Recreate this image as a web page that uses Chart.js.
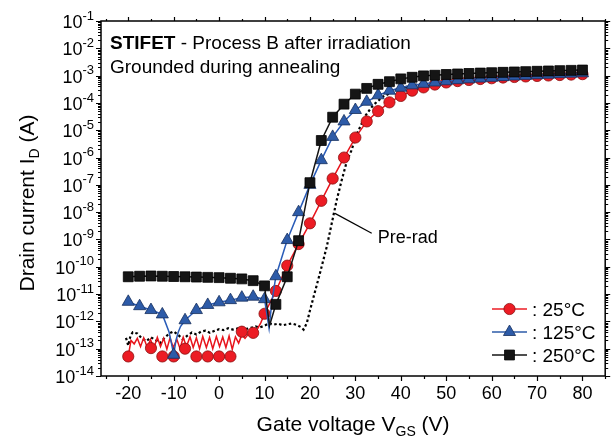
<!DOCTYPE html>
<html>
<head>
<meta charset="utf-8">
<script src="https://cdn.jsdelivr.net/npm/chart.js@4.4.1/dist/chart.umd.min.js"></script>
<style>
  html, body { margin: 0; padding: 0; background: #fff; }
  #wrap { width: 613px; height: 438px; }
</style>
</head>
<body>
<div id="wrap"><canvas id="ivChart" width="613" height="438"></canvas></div>
<script>
// axis ticks
const xTicks = [-20, -10, 0, 10, 20, 30, 40, 50, 60, 70, 80];
const yDecades = [-14, -13, -12, -11, -10, -9, -8, -7, -6, -5, -4, -3, -2, -1];

// 25°C markers (no point at -17.5 V)
const vg25 = [-20, -15, -12.5, -10, -7.5, -5, -2.5, 0, 2.5, 5, 7.5, 10, 12.5, 15, 17.5, 20, 22.5, 25, 27.5, 30,
  32.5, 35, 37.5, 40, 42.5, 45, 47.5, 50, 52.5, 55, 57.5, 60, 62.5, 65, 67.5, 70, 72.5, 75, 77.5, 80];
const id25 = [5.2e-14, 1.05e-13, 5.2e-14, 5.2e-14, 1.0e-13, 5.2e-14, 5.2e-14, 5.2e-14, 5.2e-14,
  4.2e-13, 3.8e-13, 1.9e-12, 1.3e-11, 1.1e-10, 6.8e-10, 3.9e-9, 2.6e-8, 1.7e-7, 1.0e-6, 5.4e-6,
  2.1e-5, 5.0e-5, 1.05e-4, 1.8e-4, 2.8e-4, 3.7e-4, 4.7e-4, 5.6e-4, 6.3e-4, 6.9e-4, 7.5e-4, 8.0e-4,
  8.5e-4, 8.9e-4, 9.3e-4, 9.7e-4, 1.01e-3, 1.05e-3, 1.09e-3, 1.13e-3];
// 25°C noisy trace in the off region
const vg25Line = [-20, -19.4, -18.7, -18, -17.3, -16.6, -15.8, -15.1, -14.4, -13.6, -12.9, -12.2, -11.5, -10.8,
  -10.1, -9.3, -8.6, -7.9, -7.2, -6.4, -5.7, -5, -4.3, -3.6, -2.8, -2.1, -1.4, -0.6, 0.1, 0.8, 1.5, 2.2,
  2.9, 3.6, 4.3, 5, 5.7, 6.4, 7.1, 7.8, 8.5, 9.2, 10];
const id25Line = [5.2e-14, 2.0e-13, 1.5e-13, 2.4e-13, 1.2e-13, 2.5e-13, 1.1e-13, 2.2e-13, 1.0e-13, 2.6e-13,
  1.2e-13, 2.4e-13, 9.5e-14, 2.5e-13, 1.1e-13, 2.2e-13, 1.0e-13, 2.6e-13, 1.2e-13, 2.7e-13, 1.1e-13,
  2.5e-13, 1.0e-13, 2.8e-13, 1.1e-13, 2.6e-13, 1.0e-13, 2.8e-13, 1.2e-13, 2.7e-13, 1.1e-13, 2.9e-13,
  9.5e-14, 2.7e-13, 1.6e-13, 3.2e-13, 2.4e-13, 3.4e-13, 2.8e-13, 4.0e-13, 5.5e-13, 9.0e-13, 1.9e-12];

// 125°C
const vg125 = [-20, -17.5, -15, -12.5, -10, -7.5, -5, -2.5, 0, 2.5, 5, 7.5, 10, 12.5, 15, 17.5, 20, 22.5, 25,
  27.5, 30, 32.5, 35, 37.5, 40, 42.5, 45, 47.5, 50, 52.5, 55, 57.5, 60, 62.5, 65, 67.5, 70, 72.5, 75, 77.5, 80];
const id125 = [5.2e-12, 3.6e-12, 2.6e-12, 1.8e-12, 6.0e-14, 1.1e-12, 2.6e-12, 4.0e-12, 5.0e-12, 6.0e-12,
  7.4e-12, 8.0e-12, 6.5e-12, 4.5e-11, 9.5e-10, 1.0e-8, 1.0e-7, 8.0e-7, 5.7e-6, 2.1e-5, 5.5e-5, 1.1e-4,
  1.9e-4, 2.8e-4, 3.6e-4, 4.4e-4, 5.0e-4, 5.6e-4, 6.2e-4, 6.8e-4, 7.3e-4, 7.8e-4, 8.3e-4, 8.8e-4, 9.3e-4,
  9.8e-4, 1.03e-3, 1.08e-3, 1.13e-3, 1.18e-3, 1.22e-3];
const vg125Extra = [-11.8, -11, -10.5, -9.5, -9, -8.5, 10.6, 11, 11.6];
const id125Extra = [9e-13, 4e-13, 1.6e-13, 2e-13, 4e-13, 6.5e-13, 1.5e-12, 5.5e-13, 5e-12];

// 250°C
const vg250 = vg125;
const id250 = [4.3e-11, 4.5e-11, 4.6e-11, 4.5e-11, 4.4e-11, 4.3e-11, 4.2e-11, 4.1e-11, 4.0e-11, 3.8e-11,
  3.6e-11, 3.1e-11, 2.0e-11, 4.2e-12, 4.3e-11, 9.0e-10, 1.2e-7, 4.2e-6, 3.0e-5, 9.0e-5, 2.1e-4, 3.4e-4,
  4.8e-4, 6.0e-4, 7.6e-4, 8.7e-4, 9.8e-4, 1.03e-3, 1.1e-3, 1.15e-3, 1.2e-3, 1.24e-3, 1.28e-3, 1.32e-3,
  1.36e-3, 1.4e-3, 1.44e-3, 1.48e-3, 1.52e-3, 1.56e-3, 1.6e-3];
const vg250Extra = [10.6, 11.1, 11.7];
const id250Extra = [3e-12, 7e-13, 1.5e-12];

// pre-rad (dotted)
const vgPre = [-20.5, -20, -19.5, -19, -18, -17, -16, -15, -14, -13, -12, -11, -10, -9, -8, -7, -6, -5, -4, -3,
  -2, -1, 0, 1, 2, 3, 4, 5, 6, 7, 8, 9, 10, 11, 12, 13, 14, 15, 16, 17, 18, 18.6, 19.3, 20, 20.7, 22.2,
  23.7, 24.8, 25.9, 27, 28.2, 29.2, 29.9, 32.1, 33.9, 36.1, 38.5, 41, 45, 50, 55, 60, 65, 70, 75, 80];
const idPre = [2.5e-13, 1.3e-13, 3e-13, 4e-13, 3.6e-13, 2.4e-13, 1.9e-13, 2.6e-13, 2.1e-13, 1.6e-13, 2.5e-13,
  3.6e-13, 4.3e-13, 3.2e-13, 2.2e-13, 3e-13, 3.9e-13, 3.3e-13, 4.2e-13, 4.6e-13, 3.8e-13, 4.5e-13, 5.2e-13,
  4.8e-13, 5.6e-13, 5e-13, 5.5e-13, 6e-13, 5.3e-13, 5.8e-13, 6.5e-13, 6e-13, 7e-13, 8.5e-13, 7.6e-13,
  8.2e-13, 7.2e-13, 7.8e-13, 8.4e-13, 7.5e-13, 6.2e-13, 5e-13, 8.5e-13, 2.5e-12, 6.8e-12, 5.8e-11,
  5.4e-10, 3.9e-9, 2.8e-8, 1.5e-7, 8.1e-7, 1.9e-6, 5e-6, 3.2e-5, 8.3e-5, 1.7e-4, 2.7e-4, 3.8e-4, 5.2e-4,
  6.3e-4, 7.4e-4, 8.4e-4, 9.3e-4, 1.03e-3, 1.12e-3, 1.2e-3];

const RED = '#ec1c24', RED_EDGE = '#8a1010';
const BLUE = '#2d5ba8', BLUE_EDGE = '#172e5c';
const BLACK = '#151515';
const FONT = '"Liberation Sans", Arial, sans-serif';

function pts(v, i) {
  return v.map((x, k) => ({ x: x, y: i[k] }));
}
function merged(v, i, ev, ei) {
  return pts(v, i).concat(pts(ev, ei)).sort((a, b) => a.x - b.x);
}

const redLine = pts(vg25Line, id25Line).concat(pts(vg25, id25).filter(p => p.x > 10));
const blueLine = merged(vg125, id125, vg125Extra, id125Extra);
const blackLine = merged(vg250, id250, vg250Extra, id250Extra);

const series = [
  { label: ': 25°C', color: RED, edge: RED_EDGE, style: 'circle', radius: 5.6 },
  { label: ': 125°C', color: BLUE, edge: BLUE_EDGE, style: 'triangle', radius: 7 },
  { label: ': 250°C', color: BLACK, edge: '#000', style: 'rect', radius: 7 },
];

function lineSet(data, color, order, extra) {
  return Object.assign({
    data: data, showLine: true, borderColor: color, borderWidth: 1.5,
    pointRadius: 0, fill: false, order: order, tension: 0,
  }, extra || {});
}
function markerSet(data, s, order) {
  return {
    data: data, showLine: false, pointStyle: s.style, pointRadius: s.radius,
    backgroundColor: s.color, borderColor: s.edge, pointBorderWidth: 0.8, order: order,
  };
}

// draws the Origin-style frame, ticks, labels and annotations
const originAxes = {
  id: 'originAxes',
  afterDatasetsDraw(chart) {
    const { ctx, chartArea: a, scales: { x, y } } = chart;
    ctx.save();
    ctx.strokeStyle = '#000';
    ctx.fillStyle = '#000';

    // ticks
    ctx.lineWidth = 1.2;
    ctx.beginPath();
    const xMinor = [xTicks[0] - 5].concat(xTicks.map(v => v + 5));
    xTicks.forEach(v => {
      const px = Math.round(x.getPixelForValue(v)) + 0.5;
      ctx.moveTo(px, a.bottom); ctx.lineTo(px, a.bottom + 5);
      ctx.moveTo(px, a.top); ctx.lineTo(px, a.top - 4);
    });
    xMinor.forEach(v => {
      const px = Math.round(x.getPixelForValue(v)) + 0.5;
      ctx.moveTo(px, a.bottom); ctx.lineTo(px, a.bottom + 3);
      ctx.moveTo(px, a.top); ctx.lineTo(px, a.top - 2);
    });
    yDecades.forEach(d => {
      const py = Math.round(y.getPixelForValue(Math.pow(10, d))) + 0.5;
      ctx.moveTo(a.left, py); ctx.lineTo(a.left - 5, py);
      ctx.moveTo(a.right, py); ctx.lineTo(a.right + 5, py);
      if (d < -1) {
        for (let m = 2; m <= 9; m++) {
          const my = Math.round(y.getPixelForValue(m * Math.pow(10, d))) + 0.5;
          ctx.moveTo(a.left, my); ctx.lineTo(a.left - 3, my);
          ctx.moveTo(a.right, my); ctx.lineTo(a.right + 3, my);
        }
      }
    });
    ctx.stroke();

    // frame
    ctx.lineWidth = 1.5;
    ctx.strokeRect(a.left, a.top, a.right - a.left, a.bottom - a.top);

    // x tick labels
    ctx.font = '18px ' + FONT;
    ctx.textAlign = 'center';
    ctx.textBaseline = 'middle';
    xTicks.forEach(v => ctx.fillText(String(v), x.getPixelForValue(v), a.bottom + 18));

    // y tick labels 10^n
    yDecades.forEach(d => {
      const py = y.getPixelForValue(Math.pow(10, d));
      const sup = String(d);
      ctx.font = '13px ' + FONT;
      const sw = ctx.measureText(sup).width;
      ctx.font = '18px ' + FONT;
      const bw = ctx.measureText('10').width;
      const xr = a.left - 7;
      ctx.textAlign = 'left';
      ctx.fillText('10', xr - sw - bw, py + 2);
      ctx.font = '13px ' + FONT;
      ctx.fillText(sup, xr - sw, py - 5);
    });

    // rich text helper: parts = [text, fontSize, dy, bold]
    function rich(parts, cx, cy, align) {
      const widths = parts.map(p => {
        ctx.font = (p[3] ? 'bold ' : '') + p[1] + 'px ' + FONT;
        return ctx.measureText(p[0]).width;
      });
      const total = widths.reduce((s, w) => s + w, 0);
      let xp = align === 'center' ? cx - total / 2 : cx;
      ctx.textAlign = 'left';
      ctx.textBaseline = 'alphabetic';
      parts.forEach((p, k) => {
        ctx.font = (p[3] ? 'bold ' : '') + p[1] + 'px ' + FONT;
        ctx.fillText(p[0], xp, cy + p[2]);
        xp += widths[k];
      });
    }

    // axis titles
    rich([['Gate voltage V', 21, 0], ['GS', 14, 5], [' (V)', 21, 0]], (a.left + a.right) / 2, 431, 'center');
    ctx.save();
    ctx.translate(34, 203);
    ctx.rotate(-Math.PI / 2);
    rich([['Drain current I', 21, 0], ['D', 14, 5], [' (A)', 21, 0]], 0, 0, 'center');
    ctx.restore();

    // header text
    rich([['STIFET', 19, 0, true], [' - Process B after irradiation', 19, 0]], a.left + 9, 49, 'left');
    rich([['Grounded during annealing', 19, 0]], a.left + 9, 73, 'left');

    // Pre-rad callout
    const lx0 = x.getPixelForValue(25.5), ly0 = y.getPixelForValue(9e-9);
    const lx1 = x.getPixelForValue(33.6), ly1 = y.getPixelForValue(1.7e-9);
    ctx.lineWidth = 1.2;
    ctx.beginPath();
    ctx.moveTo(lx0, ly0); ctx.lineTo(lx1, ly1);
    ctx.stroke();
    rich([['Pre-rad', 18, 0]], lx1 + 6, ly1 + 10, 'left');

    // legend
    const rows = [309, 332, 355];
    series.forEach((s, k) => {
      const yy = rows[k];
      ctx.strokeStyle = s.color;
      ctx.lineWidth = 1.5;
      ctx.beginPath();
      ctx.moveTo(492, yy); ctx.lineTo(527, yy);
      ctx.stroke();
      ctx.fillStyle = s.color;
      ctx.strokeStyle = s.edge;
      ctx.lineWidth = 0.8;
      Chart.helpers.drawPoint(ctx, { pointStyle: s.style, radius: s.radius, borderWidth: 0.8, rotation: 0 }, 509.5, yy);
      ctx.fillStyle = '#000';
      rich([[s.label, 19, 0]], 532, yy + 7, 'left');
    });

    ctx.restore();
  }
};

const chart = new Chart(document.getElementById('ivChart').getContext('2d'), {
  type: 'scatter',
  data: {
    datasets: [
      markerSet(pts(vg250, id250), series[2], 0),
      lineSet(blackLine, BLACK, 1),
      markerSet(pts(vg125, id125), series[1], 2),
      lineSet(blueLine, '#2a5cb8', 3),
      markerSet(pts(vg25, id25), series[0], 4),
      lineSet(redLine, '#e8141c', 5),
      lineSet(pts(vgPre, idPre), '#000', 6, { borderWidth: 2.2, borderDash: [2.5, 2.5] }),
    ],
  },
  options: {
    responsive: false,
    animation: false,
    events: [],
    layout: { padding: { left: 101, top: 21, right: 7, bottom: 62 } },
    plugins: { legend: { display: false }, tooltip: { enabled: false } },
    scales: {
      x: { type: 'linear', min: -26, max: 85, display: false },
      y: { type: 'logarithmic', min: 1e-14, max: 1e-1, display: false },
    },
  },
  plugins: [originAxes],
});
</script>
</body>
</html>
